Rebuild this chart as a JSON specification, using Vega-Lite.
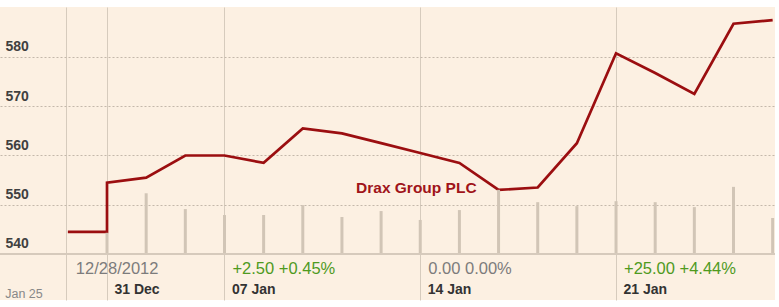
{
  "$schema": "https://vega.github.io/schema/vega-lite/v6.json",
  "width": 775,
  "height": 293,
  "autosize": {"type": "none"},
  "padding": {"left": 0, "top": 7, "right": 4, "bottom": 7},
  "background": "white",
  "config": {
    "font": "Liberation Sans",
    "view": {"stroke": null, "fill": "#fcf0e2"},
    "axis": {"domain": false, "ticks": false, "title": null}
  },
  "datasets": {
    "prices": [
      {"ord": 1, "idx": -1, "price": 544.5},
      {"ord": 2, "idx": 0, "price": 544.5},
      {"ord": 3, "idx": 0, "price": 554.5},
      {"ord": 4, "idx": 1, "price": 555.5},
      {"ord": 5, "idx": 2, "price": 560.0},
      {"ord": 6, "idx": 3, "price": 560.0},
      {"ord": 7, "idx": 4, "price": 558.5},
      {"ord": 8, "idx": 5, "price": 565.5},
      {"ord": 9, "idx": 6, "price": 564.5},
      {"ord": 10, "idx": 7, "price": 562.5},
      {"ord": 11, "idx": 8, "price": 560.5},
      {"ord": 12, "idx": 9, "price": 558.5},
      {"ord": 13, "idx": 10, "price": 553.0},
      {"ord": 14, "idx": 11, "price": 553.5},
      {"ord": 15, "idx": 12, "price": 562.5},
      {"ord": 16, "idx": 13, "price": 580.75},
      {"ord": 17, "idx": 14, "price": 576.75},
      {"ord": 18, "idx": 15, "price": 572.5},
      {"ord": 19, "idx": 16, "price": 586.75},
      {"ord": 20, "idx": 17, "price": 587.5}
    ],
    "volumes": [
      {"idx": 0, "vol": 0.43},
      {"idx": 1, "vol": 1.23},
      {"idx": 2, "vol": 0.91},
      {"idx": 3, "vol": 0.79},
      {"idx": 4, "vol": 0.79},
      {"idx": 5, "vol": 0.99},
      {"idx": 6, "vol": 0.75},
      {"idx": 7, "vol": 0.87},
      {"idx": 8, "vol": 0.69},
      {"idx": 9, "vol": 0.89},
      {"idx": 10, "vol": 1.3},
      {"idx": 11, "vol": 1.05},
      {"idx": 12, "vol": 0.97},
      {"idx": 13, "vol": 1.07},
      {"idx": 14, "vol": 1.05},
      {"idx": 15, "vol": 0.95},
      {"idx": 16, "vol": 1.36},
      {"idx": 17, "vol": 0.73}
    ],
    "changes": [
      {"idx": -1, "text": "12/28/2012", "kind": "ref"},
      {"idx": 3, "text": "+2.50 +0.45%", "kind": "up"},
      {"idx": 8, "text": "0.00 0.00%", "kind": "flat"},
      {"idx": 13, "text": "+25.00 +4.44%", "kind": "up"}
    ]
  },
  "resolve": {"scale": {"y": "independent"}},
  "layer": [
    {
      "layer": [
        {
          "data": {"name": "prices"},
          "mark": {"type": "line", "color": "#9b0e10", "strokeWidth": 2.7, "strokeJoin": "miter"},
          "encoding": {
            "x": {
              "field": "idx", "type": "quantitative",
              "scale": {"domain": [-2.733, 17.06], "nice": false, "zero": false},
              "axis": {
                "values": [-1.047, 0, 3, 8, 13],
                "grid": true, "gridColor": "#d6cbbd", "gridWidth": 1,
                "labelExpr": "datum.value == 0 ? '31 Dec' : datum.value == 3 ? '07 Jan' : datum.value == 8 ? '14 Jan' : datum.value == 13 ? '21 Jan' : ''",
                "labelAlign": "left", "labelBaseline": "alphabetic",
                "labelPadding": -7, "labelOffset": 7,
                "labelFontSize": 14, "labelFontWeight": "bold", "labelColor": "#333333",
                "labelOverlap": false, "labelFlush": false, "labelBound": false,
                "title": null
              }
            },
            "y": {
              "field": "price", "type": "quantitative",
              "scale": {"domain": [530.66, 590.15], "nice": false, "zero": false},
              "axis": {
                "values": [540, 550, 560, 570, 580],
                "grid": true, "gridDash": [2, 2], "gridColor": "#c4b8ab",
                "labelAlign": "left", "labelBaseline": "alphabetic",
                "labelPadding": -5, "labelOffset": -6,
                "labelFontSize": 14, "labelFontWeight": "bold", "labelColor": "#404040",
                "labelFlush": false, "labelBound": false,
                "title": null
              }
            },
            "order": {"field": "ord"}
          }
        },
        {
          "data": {"name": "changes"},
          "mark": {"type": "text", "align": "left", "baseline": "alphabetic", "dx": 8, "fontSize": 16.5},
          "encoding": {
            "x": {"field": "idx", "type": "quantitative"},
            "y": {"datum": 535.94, "type": "quantitative"},
            "text": {"field": "text"},
            "color": {"field": "kind", "type": "nominal", "scale": {"domain": ["ref", "up", "flat"], "range": ["#7c7c7c", "#4f9a1e", "#7c7c7c"]}, "legend": null}
          }
        },
        {
          "data": {"values": [{"name": "Drax Group PLC"}]},
          "mark": {"type": "text", "align": "left", "baseline": "alphabetic", "fontSize": 15.5, "fontWeight": "bold", "color": "#a0141a"},
          "encoding": {
            "x": {"datum": 6.36, "type": "quantitative"},
            "y": {"datum": 552.4, "type": "quantitative"},
            "text": {"field": "name"}
          }
        },
        {
          "data": {"values": [{"name": "Jan 25"}]},
          "mark": {"type": "text", "align": "left", "baseline": "alphabetic", "fontSize": 12.5, "color": "#888888"},
          "encoding": {
            "x": {"datum": -2.6, "type": "quantitative"},
            "y": {"datum": 531.0, "type": "quantitative"},
            "text": {"field": "name"}
          }
        }
      ]
    },
    {
      "data": {"name": "volumes"},
      "mark": {"type": "rule", "strokeWidth": 3, "color": "#d1c5b6"},
      "encoding": {
        "x": {"field": "idx", "type": "quantitative"},
        "y": {"field": "vol", "type": "quantitative", "scale": {"domain": [-0.93, 5], "nice": false, "zero": false}, "axis": null},
        "y2": {"datum": 0}
      }
    },
    {
      "data": {"values": [{"level": 540}]},
      "mark": {"type": "rule", "color": "#d6cabc", "strokeWidth": 2},
      "encoding": {
        "y": {"field": "level", "type": "quantitative", "scale": {"domain": [530.66, 590.15], "nice": false, "zero": false}, "axis": null}
      }
    }
  ]
}
